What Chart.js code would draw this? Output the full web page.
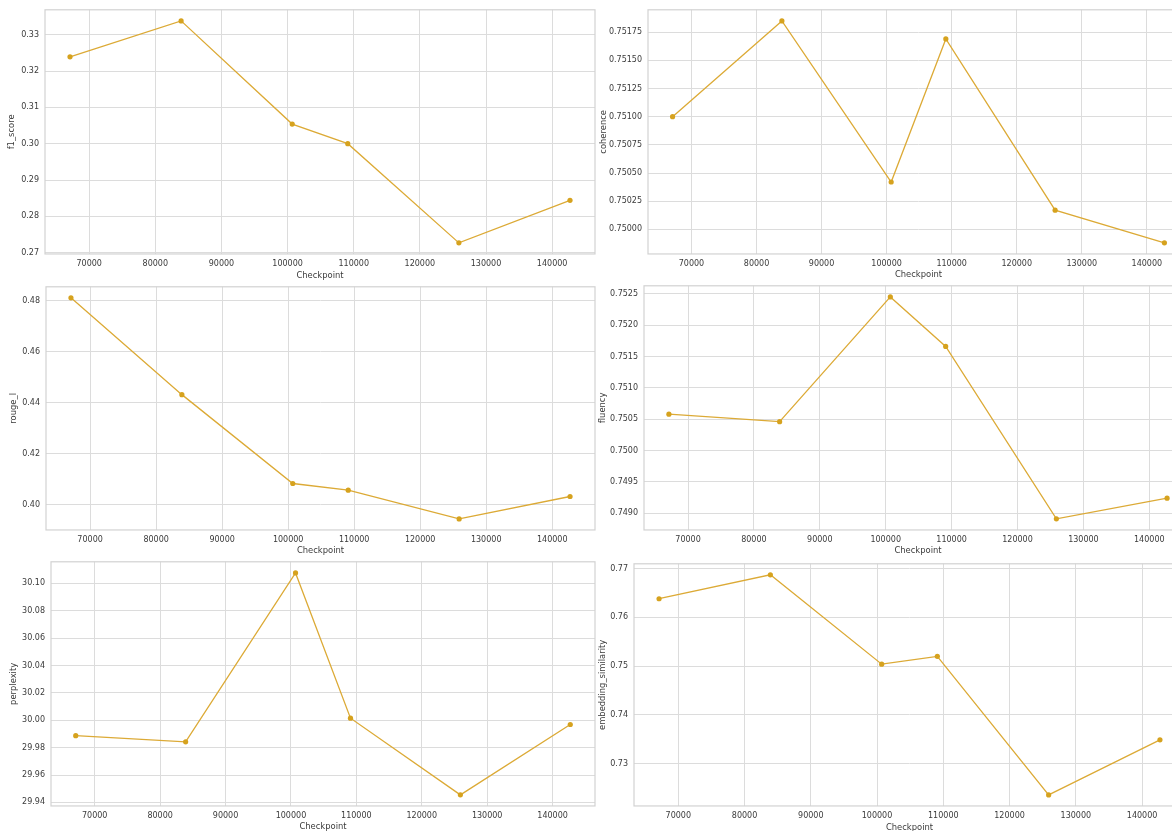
<!DOCTYPE html>
<html lang="en">
<head>
    <meta charset="UTF-8">
    <title>Checkpoint metrics</title>
    <script src="https://cdn.jsdelivr.net/npm/chart.js"></script>
    <style>
        html, body { margin: 0; padding: 0; background: #ffffff; }
        body { width: 1172px; height: 831px; overflow: hidden; position: relative; }
        canvas { position: absolute; }
    </style>
</head>
<body>
    <canvas id="f1Chart"></canvas>
    <canvas id="coherenceChart"></canvas>
    <canvas id="rougeChart"></canvas>
    <canvas id="fluencyChart"></canvas>
    <canvas id="perplexityChart"></canvas>
    <canvas id="embeddingChart"></canvas>

    <script>
        // checkpoints (x)
        const checkpoints = [67100, 83900, 100700, 109100, 125900, 142700];
        const checkpointTicks = [70000, 80000, 90000, 100000, 110000, 120000, 130000, 140000];

        // metric values
        const f1Score = [0.3239, 0.3338, 0.3054, 0.3000, 0.2727, 0.2844];
        const coherence = [0.75100, 0.75185, 0.75042, 0.75169, 0.75017, 0.74988];
        const rougeL = [0.4812, 0.4432, 0.4083, 0.4057, 0.3944, 0.4032];
        const fluency = [0.75058, 0.75046, 0.75245, 0.75166, 0.74891, 0.74924];
        const perplexity = [29.9887, 29.9842, 30.1076, 30.0015, 29.9455, 29.9969];
        const embeddingSimilarity = [0.7638, 0.7687, 0.7504, 0.7520, 0.7236, 0.7349];

        // y tick labels
        const f1Ticks = [0.27, 0.28, 0.29, 0.30, 0.31, 0.32, 0.33];
        const coherenceTicks = [0.75000, 0.75025, 0.75050, 0.75075, 0.75100, 0.75125, 0.75150, 0.75175];
        const rougeTicks = [0.40, 0.42, 0.44, 0.46, 0.48];
        const fluencyTicks = [0.7490, 0.7495, 0.7500, 0.7505, 0.7510, 0.7515, 0.7520, 0.7525];
        const perplexityTicks = [29.94, 29.96, 29.98, 30.00, 30.02, 30.04, 30.06, 30.08, 30.10];
        const embeddingTicks = [0.73, 0.74, 0.75, 0.76, 0.77];

        const LINE_COLOR = '#DCAA36';
        const POINT_COLOR = '#D6A21E';
        const GRID_COLOR = '#dcdcdc';
        const FRAME_COLOR = '#d2d2d2';
        const TEXT_COLOR = '#3a3a3a';
        const TICK_FONT = { family: 'DejaVu Sans', size: 8 };
        const LABEL_FONT = { family: 'DejaVu Sans', size: 8.4 };
        const LH = LABEL_FONT.size * 1.2;

        // matplotlib-like 5% margins
        function padRange(values) {
            const lo = Math.min(...values), hi = Math.max(...values);
            const m = (hi - lo) * 0.05;
            return [lo - m, hi + m];
        }

        // frame round the plot area (all four spines)
        const framePlugin = {
            id: 'frame',
            beforeDatasetsDraw(chart) {
                const { ctx, chartArea: a } = chart;
                ctx.save();
                ctx.strokeStyle = FRAME_COLOR;
                ctx.lineWidth = 1.2;
                ctx.strokeRect(a.left, a.top, a.right - a.left, a.bottom - a.top);
                ctx.restore();
            }
        };

        // box = plot area in page px, yl / xl = centre of the axis titles
        function makePanel(id, label, values, yTicks, decimals, box) {
            const canvas = document.getElementById(id);
            const left = box.yl - 8;
            const top = box.T - 8;
            const yw = box.L - left;
            const xh = box.xl + LH / 2 + 3 - box.B;
            const w = box.R + 8 - left;
            const h = box.B + xh - top;
            canvas.width = w;
            canvas.height = h;
            canvas.style.left = left + 'px';
            canvas.style.top = top + 'px';
            canvas.style.width = w + 'px';
            canvas.style.height = h + 'px';

            const [yMin, yMax] = padRange(values);
            const [xMin, xMax] = padRange(checkpoints);

            return new Chart(canvas.getContext('2d'), {
                type: 'line',
                data: {
                    datasets: [{
                        data: checkpoints.map((c, i) => ({ x: c, y: values[i] })),
                        borderColor: LINE_COLOR,
                        backgroundColor: POINT_COLOR,
                        borderWidth: 1.3,
                        pointRadius: 2.6,
                        pointBorderWidth: 0,
                        pointBackgroundColor: POINT_COLOR,
                        tension: 0
                    }]
                },
                options: {
                    responsive: false,
                    animation: false,
                    devicePixelRatio: 1,
                    layout: { padding: { top: 8, right: 8, left: 0, bottom: 0 } },
                    plugins: { legend: { display: false }, tooltip: { enabled: false } },
                    scales: {
                        x: {
                            type: 'linear',
                            min: xMin,
                            max: xMax,
                            afterBuildTicks: s => { s.ticks = checkpointTicks.map(v => ({ value: v })); },
                            afterFit: s => { s.height = xh; },
                            grid: { color: GRID_COLOR, lineWidth: 1, drawTicks: false },
                            border: { display: false },
                            ticks: {
                                color: TEXT_COLOR, font: TICK_FONT, padding: 5,
                                maxRotation: 0, autoSkip: false,
                                callback: v => String(v)
                            },
                            title: {
                                display: true, text: 'Checkpoint', color: TEXT_COLOR,
                                font: LABEL_FONT, padding: { top: 0, bottom: 3 }
                            }
                        },
                        y: {
                            min: yMin,
                            max: yMax,
                            afterBuildTicks: s => { s.ticks = yTicks.map(v => ({ value: v })); },
                            afterFit: s => { s.width = yw; },
                            grid: { color: GRID_COLOR, lineWidth: 1, drawTicks: false },
                            border: { display: false },
                            ticks: {
                                color: TEXT_COLOR, font: TICK_FONT, padding: 6,
                                autoSkip: false,
                                callback: v => Number(v).toFixed(decimals)
                            },
                            title: {
                                display: true, text: label, color: TEXT_COLOR,
                                font: LABEL_FONT, padding: { top: 8 - LH / 2, bottom: 0 }
                            }
                        }
                    }
                },
                plugins: [framePlugin]
            });
        }

        makePanel('f1Chart', 'f1_score', f1Score, f1Ticks, 2,
            { L: 45, T: 7, R: 595, B: 254, yl: 12, xl: 276 });
        makePanel('coherenceChart', 'coherence', coherence, coherenceTicks, 5,
            { L: 648, T: 7, R: 1189, B: 254, yl: 604, xl: 275 });
        makePanel('rougeChart', 'rouge_l', rougeL, rougeTicks, 2,
            { L: 46, T: 284, R: 595, B: 530, yl: 14, xl: 551 });
        makePanel('fluencyChart', 'fluency', fluency, fluencyTicks, 4,
            { L: 644, T: 283, R: 1192, B: 530, yl: 603, xl: 551 });
        makePanel('perplexityChart', 'perplexity', perplexity, perplexityTicks, 2,
            { L: 51, T: 559, R: 595, B: 806, yl: 14, xl: 827 });
        makePanel('embeddingChart', 'embedding_similarity', embeddingSimilarity, embeddingTicks, 2,
            { L: 634, T: 561, R: 1185, B: 806, yl: 603, xl: 828 });
    </script>
</body>
</html>
